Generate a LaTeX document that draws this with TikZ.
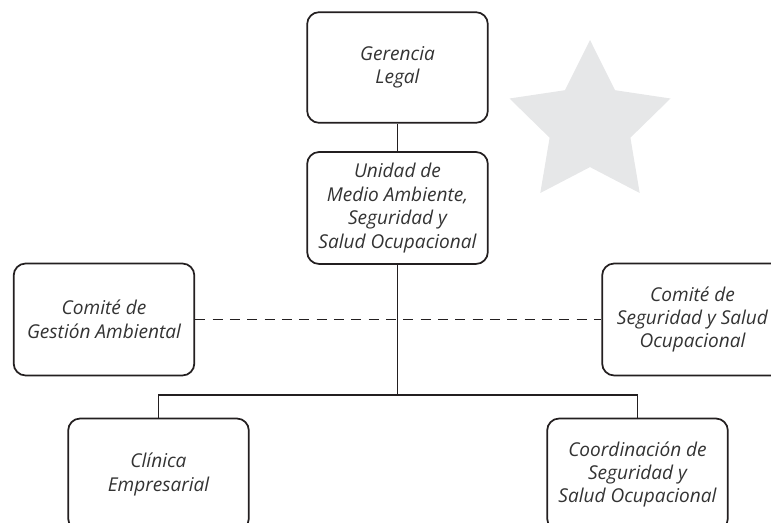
\documentclass[tikz,border=0pt]{standalone}
\usepackage{fontspec}
\setmainfont{Open Sans}
\definecolor{linecol}{HTML}{231F20}
\definecolor{textcol}{HTML}{333333}
\definecolor{starcol}{HTML}{E6E7E8}
\begin{document}
\begin{tikzpicture}[x=0.75pt,y=-0.75pt,
  box/.style={draw=linecol,line width=1.3pt,rounded corners=9pt,
    minimum width=135.5pt,minimum height=84pt,inner sep=0pt,
    align=center,text=textcol,
    font=\fontsize{14.3}{17.6}\selectfont\itshape},
  conn/.style={draw=linecol,line width=0.9pt},
  dconn/.style={draw=linecol,line width=0.9pt,dash pattern=on 7.5pt off 5.5pt}]
\useasboundingbox (0,0) rectangle (771,523);
\clip (0,0) rectangle (771,523);
% star
\fill[starcol] (590,40) -- (565.0,90.2) -- (509.5,98.5) -- (549.6,137.7)
  -- (540.3,193.0) -- (590,167.1) -- (639.7,193.0) -- (630.4,137.7)
  -- (670.5,98.5) -- (615.0,90.2) -- cycle;
% nodes
\node[box,minimum height=83pt] (ger) at (397.5,67.5) {Gerencia\\Legal};
\node[box] (uni) at (397.5,208) {Unidad de\\Medio Ambiente,\\Seguridad y\\Salud Ocupacional};
\node[box] (cga) at (104,319.5) {Comité de\\Gestión Ambiental};
\node[box] (css) at (692.5,319.5) {Comité de\\Seguridad y Salud\\Ocupacional};
\node[box] (cli) at (158.5,474.5) {Clínica\\Empresarial};
\node[box] (coo) at (637.5,474.5) {Coordinación de\\Seguridad y\\Salud Ocupacional};
\coordinate (j) at (397.5,395);
% connectors
\draw[conn] (ger.south) -- (uni.north);
\draw[conn] (uni.south) -- (j);
\draw[conn] (j) -| (cli.north);
\draw[conn] (j) -| (coo.north);
\draw[dconn] (cga.east) -- (css.west);
\end{tikzpicture}
\end{document}
